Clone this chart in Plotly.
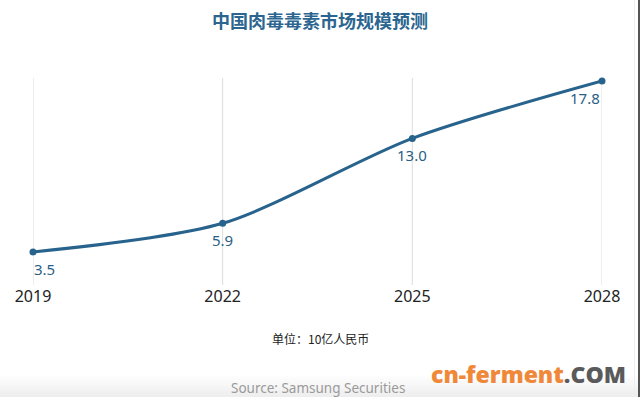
import plotly.graph_objects as go

years = [2019, 2022, 2025, 2028]
values = [3.5, 5.9, 13.0, 17.8]
labels = ["3.5", "5.9", "13.0", "17.8"]
title = "中国肉毒毒素市场规模预测"
unit_note = "单位：10亿人民币"
source = "Source: Samsung Securities"

W, H = 640, 397
ml, mr, mt, mb = 33, 38, 78, 112
pw = W - ml - mr
ph = H - mt - mb

def px_to_paper_x(px):
    return (px - ml) / pw

def py_to_paper_y(py):
    return (H - mb - py) / ph

line_color = "#27638c"

fig = go.Figure()
fig.add_trace(go.Scatter(
    x=years, y=values, mode="lines+markers",
    line=dict(color=line_color, width=3, shape="spline", smoothing=0.8),
    marker=dict(color=line_color, size=7),
    cliponaxis=False,
    hoverinfo="skip",
))

label_anchor = ["left", "center", "center", "right"]
annotations = []
for xv, yv, lab, anc in zip(years, values, labels, label_anchor):
    annotations.append(dict(
        x=xv, y=yv, xref="x", yref="y", text=lab, showarrow=False,
        xanchor=anc, yanchor="middle", yshift=-17,
        xshift=-1 if anc == "left" else 0,
        font=dict(family="Noto Sans, sans-serif", size=15, color="#2a5f87")))

shapes = []
# vertical gridlines at each year
for xv in years:
    shapes.append(dict(type="line", xref="x", yref="paper", x0=xv, x1=xv,
                       y0=0, y1=1, line=dict(color="#dcdcdc", width=1), layer="below"))
# bottom gray gradient band
n = 10
for i in range(n):
    y0 = 376 + i * 2.1
    shapes.append(dict(type="rect", xref="paper", yref="paper",
                       x0=px_to_paper_x(0), x1=px_to_paper_x(W),
                       y0=py_to_paper_y(y0 + 2.1), y1=py_to_paper_y(y0),
                       fillcolor="rgba(200,200,200,%.3f)" % (0.04 + 0.03 * i),
                       line=dict(width=0), layer="below"))
# right border lines
shapes.append(dict(type="line", xref="paper", yref="paper",
                   x0=px_to_paper_x(639), x1=px_to_paper_x(639),
                   y0=py_to_paper_y(H), y1=py_to_paper_y(0),
                   line=dict(color="#555555", width=2)))
shapes.append(dict(type="line", xref="paper", yref="paper",
                   x0=px_to_paper_x(634.5), x1=px_to_paper_x(634.5),
                   y0=py_to_paper_y(H), y1=py_to_paper_y(0),
                   line=dict(color="#eeeeee", width=1)))

annotations += [
    dict(text="<b>" + title + "</b>", xref="paper", yref="paper",
         x=px_to_paper_x(320), y=py_to_paper_y(20), showarrow=False,
         xanchor="center", yanchor="middle",
         font=dict(family="Noto Sans CJK SC", size=18, color="#2b6590")),
    dict(text=unit_note, xref="paper", yref="paper",
         x=px_to_paper_x(320), y=py_to_paper_y(338), showarrow=False,
         xanchor="center", yanchor="middle",
         font=dict(family="Noto Sans CJK SC", size=12, color="#222222")),
    dict(text=source, xref="paper", yref="paper",
         x=px_to_paper_x(318), y=py_to_paper_y(388), showarrow=False,
         xanchor="center", yanchor="middle",
         font=dict(family="Noto Sans, sans-serif", size=13.5, color="#9a9a9a")),
    dict(text="<span style='color:#f0883a'>cn-ferment</span><span style='color:#5a5a5a'>.COM</span>",
         xref="paper", yref="paper",
         x=px_to_paper_x(628), y=py_to_paper_y(374), showarrow=False,
         xanchor="right", yanchor="middle",
         font=dict(family="Open Sans", size=23, weight=800, color="#f0883a")),
]

fig.update_layout(
    width=W, height=H,
    margin=dict(l=ml, r=mr, t=mt, b=mb, pad=0),
    paper_bgcolor="white", plot_bgcolor="white",
    showlegend=False,
    xaxis=dict(range=[2019, 2028], tickvals=years, ticktext=[str(y) for y in years],
               showgrid=False,
               zeroline=False, showline=False, ticks="",
               tickfont=dict(family="Noto Sans, sans-serif", size=16, color="#222222")),
    yaxis=dict(range=[0.74, 18.05], showgrid=False, zeroline=False,
               showticklabels=False, showline=False, ticks=""),
    shapes=shapes,
    annotations=annotations,
)

fig.write_html("out.html", config={"displayModeBar": False},
               post_script="document.body.style.margin='0';document.body.style.padding='0';document.body.style.overflow='hidden';")
